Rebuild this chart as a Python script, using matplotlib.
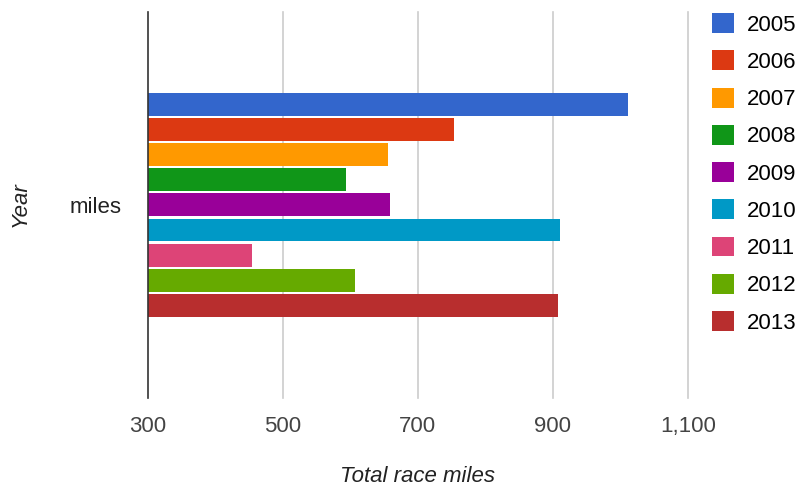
import matplotlib
matplotlib.use("Agg")
import matplotlib.pyplot as plt
from matplotlib.patches import Patch

years = ["2005", "2006", "2007", "2008", "2009", "2010", "2011", "2012", "2013"]
miles = [1011, 754, 656, 593, 659, 910, 454, 607, 907]
colors = ["#3366cc", "#dc3912", "#ff9900", "#109618", "#990099",
          "#0099c6", "#dd4477", "#66aa00", "#b82e2e"]
category = "miles"
xticks = [300, 500, 700, 900, 1100]
xticklabels = ["300", "500", "700", "900", "1,100"]

plt.rcParams["font.family"] = ["Liberation Sans", "DejaVu Sans"]
FS = 16

fig = plt.figure(figsize=(8.02, 4.90), dpi=100)
ax = fig.add_axes([0.184, 0.188, 0.674, 0.788])

n = len(years)
for i, (yr, v, c) in enumerate(zip(years, miles, colors)):
    ax.barh(i, v - 300, left=300, height=0.91, color=c, label=yr, zorder=3)

half = 7.68
ax.set_ylim((n - 1) / 2 + half, (n - 1) / 2 - half)
ax.set_xlim(300, 1100)

ax.set_xticks(xticks)
ax.set_xticklabels(xticklabels, fontsize=FS, color="#444444")
ax.set_yticks([(n - 1) / 2])
ax.set_yticklabels([category], fontsize=FS, color="#222222")
ax.tick_params(axis="x", length=0, pad=13)
ax.tick_params(axis="y", length=0, pad=19)

# gridlines; the 1,100 one sits on the axes edge so don't clip it
for x in xticks[1:]:
    ax.axvline(x, color="#cccccc", lw=1.2, zorder=1, clip_on=False)
for s in ["top", "right", "bottom"]:
    ax.spines[s].set_visible(False)
ax.spines["left"].set_color("#333333")
ax.spines["left"].set_linewidth(1.2)
ax.spines["left"].set_zorder(4)

ax.set_xlabel("Total race miles", fontsize=FS, style="italic", color="#222222", labelpad=21)
fig.text(0.025, 0.584, "Year", rotation=90, fontsize=FS, style="italic",
         color="#222222", ha="center", va="center")

handles = [Patch(facecolor=c, label=y) for y, c in zip(years, colors)]
fig.legend(handles=handles, loc="upper left", bbox_to_anchor=(0.888, 0.973),
           frameon=False, fontsize=FS, handlelength=1.0, handleheight=1.0,
           labelspacing=0.66, handletextpad=0.55, borderaxespad=0.0, borderpad=0.0)

fig.savefig("out.png", dpi=100, facecolor="white")
